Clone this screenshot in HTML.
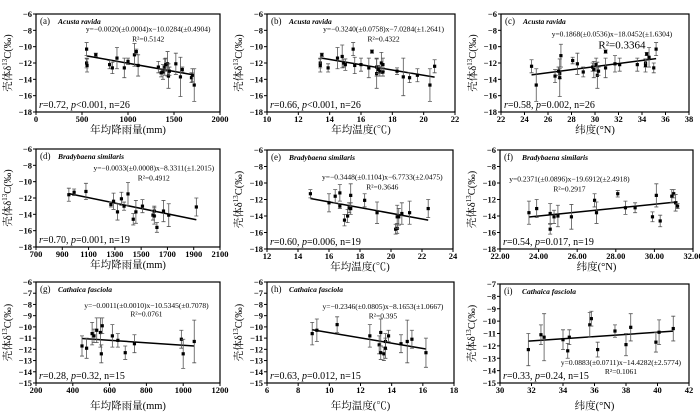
<!DOCTYPE html>
<html><head><meta charset="utf-8"><style>
body{margin:0;background:#fff;width:700px;height:413px;overflow:hidden}
svg{display:block;font-family:"Liberation Serif","Noto Serif CJK SC",serif}
</style></head><body>
<svg id="chart" width="700" height="413" viewBox="0 0 700 413"></svg>
<script>
// Panel (a) Acusta ravida vs precipitation
const aX=[550,550,555,650,800,830,880,960,1000,1070,1090,1110,1330,1360,1380,1400,1410,1430,1440,1450,1520,1570,1590,1690,1700,1720];
const aY=[-10.3,-12.0,-12.3,-11.0,-12.2,-12.6,-11.4,-12.6,-11.8,-11.0,-10.6,-12.3,-12.5,-13.2,-13.1,-12.5,-12.2,-12.1,-13.6,-13.0,-12.1,-13.7,-12.8,-13.8,-13.5,-14.7];
const aE=[0.8,0.6,0.8,0.2,0.5,0.7,1.3,1.2,0.4,1.4,0.3,1.3,0.7,0.5,0.9,1.0,0.8,1.5,1.5,0.5,1.3,2.4,0.3,0.6,0.8,2.0];
// Panel (b) Acusta ravida vs temperature
const bX=[13.4,13.4,13.5,13.9,14.5,14.8,14.9,15.0,15.5,15.6,16.0,16.7,16.5,17.0,17.0,17.2,17.3,17.4,17.4,18.3,18.7,19.1,19.6,20.4,20.7,17.1];
const bY=[-12.0,-12.3,-11.0,-12.6,-11.4,-11.2,-12.0,-12.2,-10.3,-12.3,-12.2,-10.6,-12.6,-12.5,-13.3,-13.0,-12.0,-12.2,-13.1,-13.0,-13.7,-13.8,-13.5,-14.7,-12.4,-12.8];
const bE=[0.6,0.8,0.2,0.5,1.3,1.4,0.5,0.7,0.8,1.0,0.8,0.2,1.2,1.1,1.8,0.6,1.3,0.8,0.5,0.4,2.3,0.6,0.8,2.0,0.8,0.5];
// Panel (c) Acusta ravida vs latitude
const cX=[24.6,25.0,26.6,27.0,27.0,27.1,28.1,28.5,29.0,29.8,29.9,30.1,30.2,30.3,30.9,30.9,31.7,32.1,33.6,34.3,34.3,34.4,34.6,35.0,35.2,26.9];
const cY=[-12.4,-14.7,-13.6,-13.3,-13.8,-11.1,-11.7,-12.1,-13.1,-12.5,-12.8,-12.2,-13.5,-13.0,-10.6,-12.6,-12.1,-12.2,-12.2,-12.0,-12.3,-10.9,-11.3,-12.6,-10.3,-13.0];
const cE=[0.8,2.0,0.8,0.6,2.3,1.4,0.4,1.3,0.6,0.5,1.0,0.8,1.6,0.5,0.2,1.2,1.0,0.8,0.8,0.5,0.8,0.2,1.2,0.6,0.8,0.5];
// Panel (d) Bradybaena similaris vs precipitation
const dX=[950,990,1080,1270,1290,1320,1350,1370,1400,1440,1460,1510,1590,1600,1600,1620,1670,1710,1920];
const dY=[-11.6,-11.3,-11.2,-12.8,-12.4,-13.7,-12.1,-13.0,-11.5,-14.6,-13.7,-13.0,-14.1,-13.6,-14.2,-15.6,-13.6,-14.1,-13.1];
const dE=[0.8,0.4,1.0,0.3,1.0,1.0,0.8,0.5,1.4,0.7,1.4,0.8,0.6,0.6,1.0,0.6,1.3,1.4,1.1];
// Panel (e) Bradybaena similaris vs temperature
const eX=[14.8,16.0,16.4,16.7,16.7,17.0,17.2,17.3,17.4,17.4,18.3,19.1,20.3,20.4,20.4,20.5,20.7,21.2,22.4];
const eY=[-11.3,-12.4,-11.6,-11.2,-12.8,-14.5,-14.0,-13.0,-11.5,-13.1,-12.1,-13.6,-15.6,-15.5,-14.1,-14.1,-13.7,-13.6,-13.1];
const eE=[0.5,1.1,0.8,1.0,0.3,0.7,0.8,0.6,1.4,0.7,0.8,1.3,0.6,0.6,1.4,1.0,1.3,1.4,1.1];
// Panel (f) Bradybaena similaris vs latitude
const fX=[23.5,23.9,24.6,24.6,24.8,25.0,25.7,26.9,27.0,28.1,28.5,29.0,29.9,30.1,30.3,30.9,31.0,31.1,31.2];
const fY=[-13.6,-13.1,-13.7,-15.6,-14.1,-14.0,-14.1,-12.1,-13.6,-11.3,-13.0,-13.0,-14.1,-11.5,-14.6,-11.6,-11.3,-12.4,-12.8];
const fE=[1.4,1.1,1.2,0.6,0.8,1.3,1.5,0.8,1.3,0.4,0.8,0.6,0.6,1.4,0.7,0.8,0.5,1.0,0.3];
// Panel (g) Cathaica fasciola vs precipitation
const gX=[450,475,505,515,530,550,555,560,615,645,685,735,990,1000,1060];
const gY=[-11.7,-11.9,-10.6,-10.8,-10.3,-10.5,-12.4,-9.9,-10.8,-11.2,-12.3,-11.5,-11.1,-12.4,-11.3];
const gE=[0.9,0.9,1.0,0.6,1.1,1.3,0.8,0.7,1.0,0.6,0.6,0.8,0.8,1.3,1.9];
// Panel (h) Cathaica fasciola vs temperature
const hX=[8.9,9.2,10.5,12.6,13.2,13.3,13.3,13.5,13.6,13.6,13.8,14.6,15.0,15.3,16.2];
const hY=[-10.6,-10.3,-9.8,-10.8,-11.6,-10.5,-12.3,-12.4,-11.3,-11.9,-10.8,-11.5,-11.3,-11.1,-12.3];
const hE=[1.0,1.0,0.7,1.0,0.8,1.2,0.6,0.6,0.7,0.9,0.5,0.8,1.9,0.8,1.3];
// Panel (i) Cathaica fasciola vs latitude
const iX=[31.8,32.6,32.8,34.0,34.3,34.4,35.7,35.8,36.2,37.3,38.0,38.3,39.9,40.1,41.0];
const iY=[-12.3,-11.1,-11.3,-11.5,-12.4,-11.3,-10.3,-9.8,-12.3,-10.8,-11.9,-10.5,-11.7,-10.9,-10.6];
const iE=[1.3,0.8,1.9,0.8,0.6,0.6,1.0,0.6,0.6,0.5,0.9,1.1,0.8,1.0,1.0];
// Tick labels
const yTicksA=[-6,-8,-10,-12,-14,-16,-18];
const yTicksG=[-6,-7,-8,-9,-10,-11,-12,-13,-14,-15];
const yTicksI=[-7,-8,-9,-10,-11,-12,-13,-14,-15];
const xTicksA=[0,500,1000,1500,2000];
const xTicksB=[10,12,14,16,18,20,22];
const xTicksC=[22,24,26,28,30,32,34,36,38];
const xTicksD=[700,900,1100,1300,1500,1700,1900,2100];
const xTicksE=[12,14,16,18,20,22,24];
const xTicksF=[22,24,26,28,30,32];
const xTicksG=[200,400,600,800,1000,1200];
const xTicksH=[6,8,10,12,14,16,18];
const xTicksI=[30,32,34,36,38,40,42];
// Fit coefficients [slope, intercept]
const fitA=[-0.0020,-10.0284],fitB=[-0.3240,-7.0284],fitC=[0.1868,-18.0452];
const fitD=[-0.0033,-8.3311],fitE=[-0.3448,-6.7733],fitF=[0.2371,-19.6912];
const fitG=[-0.0011,-10.5345],fitH=[-0.2346,-8.1653],fitI=[0.0883,-14.4282];

const panels=[
 {id:'a',box:[36,14,220,112],x:aX,y:aY,e:aE,xt:xTicksA,yt:yTicksA,fit:fitA,sp:'Acusta ravida',eq:'y=−0.0020(±0.0004)x−10.0284(±0.4904)',r2:'R²=0.5142',ex:0.61,ey:0.15,ry:0.25,r:['0.72','<0.001','26'],xl:'年均降雨量(mm)',dec:0,to:21},
 {id:'b',box:[267,14,455,112],x:bX,y:bY,e:bE,xt:xTicksB,yt:yTicksA,fit:fitB,sp:'Acusta ravida',eq:'y=−0.3240(±0.0758)x−7.0284(±1.2641)',r2:'R²=0.4322',ex:0.62,ey:0.15,ry:0.25,r:['0.66','<0.001','26'],xl:'年均温度(℃)',dec:0,to:21},
 {id:'c',box:[501,14,689,112],x:cX,y:cY,e:cE,xt:xTicksC,yt:yTicksA,fit:fitC,sp:'Acusta ravida',eq:'y=0.1868(±0.0536)x−18.0452(±1.6304)',r2:'R²=0.3364',ex:0.59,ey:0.2,ry:0.32,big:1,r:['0.58','=0.002','26'],xl:'纬度(°N)',dec:0,to:21},
 {id:'d',box:[36,149,220,247],x:dX,y:dY,e:dE,xt:xTicksD,yt:yTicksA,fit:fitD,sp:'Bradybaena similaris',eq:'y=−0.0033(±0.0008)x−8.3311(±1.2015)',r2:'R²=0.4912',ex:0.64,ey:0.19,ry:0.29,r:['0.70','=0.001','19'],xl:'年均降雨量(mm)',dec:0,to:21},
 {id:'e',box:[267,150,453,249],x:eX,y:eY,e:eE,xt:xTicksE,yt:yTicksA,fit:fitE,sp:'Bradybaena similaris',eq:'y=−0.3448(±0.1104)x−6.7733(±2.0475)',r2:'R²=0.3646',ex:0.62,ey:0.27,ry:0.37,r:['0.60','=0.006','19'],xl:'年均温度(℃)',dec:0,to:21},
 {id:'f',box:[500,150,693,249],x:fX,y:fY,e:fE,xt:xTicksF,yt:yTicksA,fit:fitF,sp:'Bradybaena similaris',eq:'y=0.2371(±0.0896)x−19.6912(±2.4918)',r2:'R²=0.2917',ex:0.36,ey:0.29,ry:0.39,r:['0.54','=0.017','19'],xl:'纬度(°N)',dec:2,to:21},
 {id:'g',box:[36,282,220,383],x:gX,y:gY,e:gE,xt:xTicksG,yt:yTicksG,fit:fitG,sp:'Cathaica fasciola',eq:'y=−0.0011(±0.0010)x−10.5345(±0.7078)',r2:'R²=0.0761',ex:0.60,ey:0.23,ry:0.31,r:['0.28','=0.32','15'],xl:'年均降雨量(mm)',dec:0,to:26},
 {id:'h',box:[267,282,454,383],x:hX,y:hY,e:hE,xt:xTicksH,yt:yTicksG,fit:fitH,sp:'Cathaica fasciola',eq:'y=−0.2346(±0.0805)x−8.1653(±1.0667)',r2:'R²=0.395',ex:0.62,ey:0.24,ry:0.33,r:['0.63','=0.012','15'],xl:'年均温度(℃)',dec:0,to:26},
 {id:'i',box:[500,284,689,383],x:iX,y:iY,e:iE,xt:xTicksI,yt:yTicksI,fit:fitI,sp:'Cathaica fasciola',eq:'y=0.0883(±0.0711)x−14.4282(±2.5774)',r2:'R²=0.1061',ex:0.64,ey:0.79,ry:0.88,r:['0.33','=0.24','15'],xl:'纬度(°N)',dec:0,to:26}
];
const svg=document.getElementById('chart');
const NS='http://www.w3.org/2000/svg';
function mk(tag,attrs,parent,txt){const el=document.createElementNS(NS,tag);for(const k in attrs)el.setAttribute(k,attrs[k]);if(txt!==undefined)el.textContent=txt;parent.appendChild(el);return el;}
panels.forEach(p=>{
 const [L,T,R,B]=p.box;
 const g=mk('g',{},svg);
 
 
 const xmin=p.xt[0],xmax=p.xt[p.xt.length-1];
 const ymax=Math.max(...p.yt),ymin=Math.min(...p.yt);
 const sx=v=>L+(v-xmin)/(xmax-xmin)*(R-L);
 const sy=v=>T+(ymax-v)/(ymax-ymin)*(B-T);
 const box=mk('rect',{x:L,y:T,width:R-L,height:B-T,fill:'none',stroke:'#000','stroke-width':1.2},g);
 
 
 p.yt.forEach(t=>{const y=sy(t);mk('line',{x1:L-3,x2:L,y1:y,y2:y,stroke:'#000'},g);
  const tl=mk('text',{x:L-4,y:y+3,'font-size':8.5,'font-weight':'bold','text-anchor':'end'},g,'−'+Math.abs(t));
  
  });
 p.xt.forEach(t=>{const x=sx(t);mk('line',{x1:x,x2:x,y1:B,y2:B+3,stroke:'#000'},g);
  const tl=mk('text',{x:x,y:B+10,'font-size':8.5,'font-weight':'bold','text-anchor':'middle'},g,t.toFixed(p.dec));
  
  });
 const x0=Math.min(...p.x),x1=Math.max(...p.x);
 const fl=mk('line',{x1:sx(x0),y1:sy(p.fit[0]*x0+p.fit[1]),x2:sx(x1),y2:sy(p.fit[0]*x1+p.fit[1]),stroke:'#000','stroke-width':1.5},g);
 
 
 p.x.forEach((xv,i)=>{
  const cx=sx(xv),cy=sy(p.y[i]),t=sy(p.y[i]+p.e[i]),b=sy(p.y[i]-p.e[i]);
  const eb=mk('path',{d:`M${cx},${t}V${b}M${cx-2},${t}H${cx+2}M${cx-2},${b}H${cx+2}`,stroke:'#555','stroke-width':0.8,fill:'none'},g);
  
  
  const pt=mk('rect',{x:cx-1.6,y:cy-1.6,width:3.2,height:3.2,fill:'#000'},g);
  
  
 });
 const lab=mk('text',{x:L+4,y:T+10,'font-size':9},g,'('+p.id+')');
 
 
 const sp=mk('text',{x:L+22,y:T+10,'font-size':7.5,'font-style':'italic','font-weight':'bold'},g,p.sp);
 
 
 const ex=L+p.ex*(R-L);
 const eq=mk('text',{x:ex,y:T+p.ey*(B-T)+3,'font-size':7.5,'text-anchor':'middle'},g,p.eq);
 
 
 const r2=mk('text',{x:ex+(p.big?10:0),y:T+p.ry*(B-T)+3,'font-size':p.big?11:7.5,'text-anchor':'middle'},g,p.r2);
 
 
 const rs=mk('text',{x:L+3,y:B-4,'font-size':10},g);
 
 
 mk('tspan',{'font-style':'italic'},rs,'r');
 mk('tspan',{},rs,'='+p.r[0]+', ');
 mk('tspan',{'font-style':'italic'},rs,'p');
 mk('tspan',{},rs,p.r[1]+', n='+p.r[2]);
 const xl=mk('text',{x:(L+R)/2,y:B+p.to,'font-size':10.5,'text-anchor':'middle'},g,p.xl);
 
 
 const yc=(T+B)/2,yx=L-25;
 const yl=mk('text',{x:yx,y:yc,'font-size':10.5,'text-anchor':'middle',transform:`rotate(-90 ${yx} ${yc})`},g);
 
 
 mk('tspan',{},yl,'壳体δ');
 mk('tspan',{'font-size':7,dy:-4},yl,'13');
 mk('tspan',{dy:4},yl,'C(‰)');
});
</script>
</body></html>
